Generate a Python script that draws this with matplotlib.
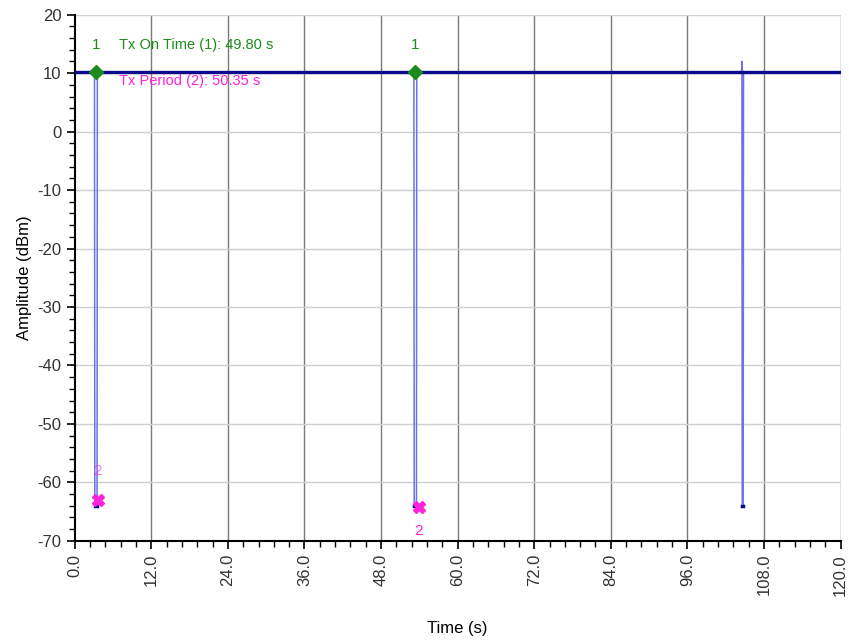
import numpy as np
import matplotlib
matplotlib.use('Agg')
import matplotlib.pyplot as plt

plt.rcParams['font.family'] = ['Liberation Sans', 'DejaVu Sans']
plt.rcParams['axes.unicode_minus'] = False

# trace: steady carrier at ~10 dBm with three short off periods
TIME = [0.0, 3.1, 3.15, 3.5, 3.55, 53.15, 53.2, 53.55, 53.6, 104.5, 104.55, 104.6, 104.75, 104.8, 120.0]
AMP = [10.2, 10.2, -64.0, -64.0, 10.2, 10.2, -64.0, -64.0, 10.2, 10.2, 12.0, -64.0, -64.0, 10.2, 10.2]

# markers
M1_TIME = [3.4, 53.3]
M1_AMP = [10.2, 10.2]
M2_TIME = [3.6, 53.9]
M2_AMP = [-63.0, -64.3]

ON_TIME_TEXT = 'Tx On Time (1): 49.80 s'
PERIOD_TEXT = 'Tx Period (2): 50.35 s'

X_TICKS = [0, 12, 24, 36, 48, 60, 72, 84, 96, 108, 120]
Y_TICKS = [-70, -60, -50, -40, -30, -20, -10, 0, 10, 20]

t = np.array(TIME)
a = np.array(AMP)

fig = plt.figure(figsize=(8.49, 6.40), dpi=100)
fig.patch.set_facecolor('white')
ax = fig.add_axes([0.088, 0.155, 0.902, 0.822])

# grid: dark vertical lines, light horizontal lines
for x in X_TICKS[1:]:
    ax.axvline(x, color='#7a7a7a', lw=1.0, zorder=0)
for y in Y_TICKS[1:]:
    ax.axhline(y, color='#d0d0d0', lw=1.0, zorder=0)

# thin light trace for the edges of the drops
ax.plot(t, a, color='#7070e8', lw=1.1, zorder=2)
# thick dark plateau and floor
plateau = np.where((a > 9) & (a < 11), a, np.nan)
ax.plot(t, plateau, color='#0a0a8c', lw=2.4, zorder=3)
floor = np.where(a < -60, a, np.nan)
ax.plot(t, floor, color='#0a0a8c', lw=2.5, zorder=3)

# marker 1 (green diamond)
ax.plot(M1_TIME, M1_AMP, 'D', color='#1a8c1a', ms=7, ls='none', zorder=4)
for x, y in zip(M1_TIME, M1_AMP):
    ax.text(x, y + 4.6, '1', color='#1a8c1a', fontsize=11, ha='center', va='center')

# marker 2 (magenta cross)
ax.plot(M2_TIME, M2_AMP, 'X', color='#ff22dd', ms=9, ls='none', zorder=4)
ax.text(M2_TIME[0], M2_AMP[0] + 5.0, '2', color='#ff22dd', fontsize=11,
        ha='center', va='center', alpha=0.6)
ax.text(M2_TIME[1], M2_AMP[1] - 4.0, '2', color='#ff22dd', fontsize=11,
        ha='center', va='center')

ax.text(7.0, 14.8, ON_TIME_TEXT, color='#1a8c1a', fontsize=10.5, va='center')
ax.text(7.0, 8.6, PERIOD_TEXT, color='#ff22dd', fontsize=10.5, va='center')

ax.set_xlim(0, 120)
ax.set_ylim(-70, 20)
ax.set_xticks(X_TICKS)
ax.set_xticklabels(['%.1f' % v for v in X_TICKS], rotation=90)
ax.set_yticks(Y_TICKS)
ax.set_xticks(np.arange(0, 120.01, 2.4), minor=True)
ax.set_yticks(np.arange(-70, 20.01, 2), minor=True)
ax.tick_params(axis='both', which='major', direction='out', length=6, width=1.2,
               labelsize=12, colors='black', labelcolor='#333333')
ax.tick_params(axis='both', which='minor', direction='out', length=4, width=1.0)

for side in ['top', 'right']:
    ax.spines[side].set_visible(False)
for side in ['left', 'bottom']:
    ax.spines[side].set_linewidth(1.5)

ax.set_xlabel('Time (s)', fontsize=12, labelpad=18)
ax.set_ylabel('Amplitude (dBm)', fontsize=12, labelpad=4)

fig.savefig('out.png', dpi=100)
